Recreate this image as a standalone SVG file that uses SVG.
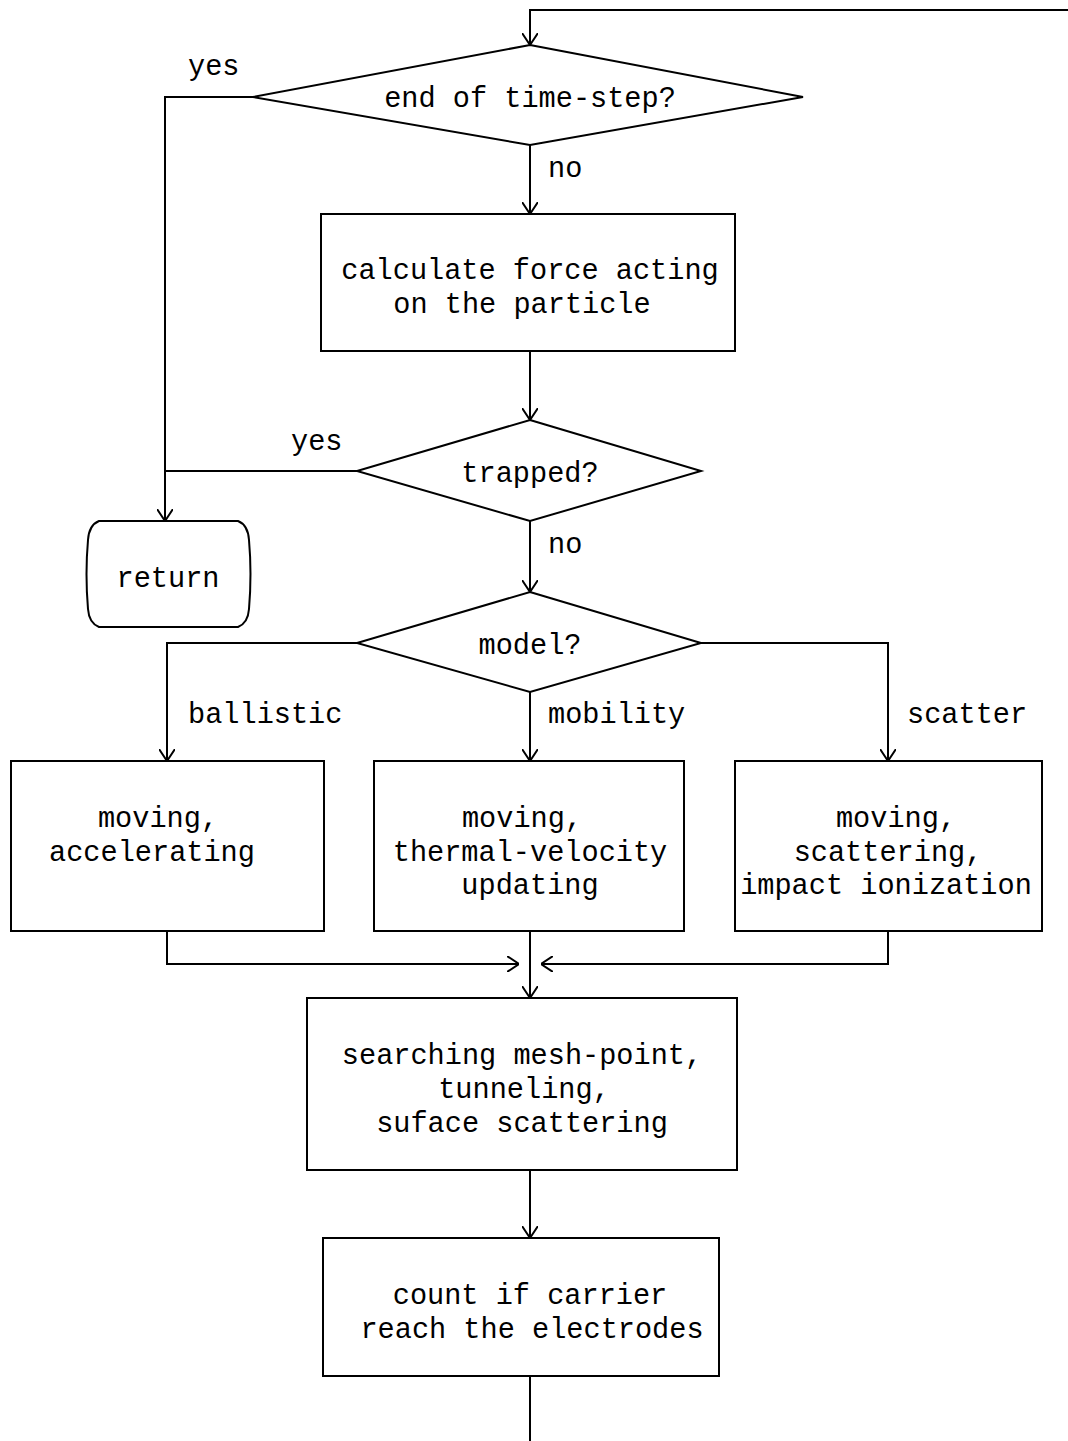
<svg xmlns="http://www.w3.org/2000/svg" width="1068" height="1441" viewBox="0 0 1068 1441">
<defs>
<style>
.s{fill:#fff;stroke:#000;stroke-width:2}
.c{fill:none;stroke:#000;stroke-width:2}
text{font-family:"Liberation Mono","DejaVu Sans Mono",monospace;font-size:28.6px;fill:#000;text-anchor:middle}
.l{text-anchor:start}
</style>
<marker id="a" viewBox="0 0 12 16" refX="12" refY="8" markerWidth="12" markerHeight="16" markerUnits="userSpaceOnUse" orient="auto">
<path d="M0,0 L12,8 L0,16" fill="none" stroke="#000" stroke-width="2"/>
</marker>
</defs>
<rect width="1068" height="1441" fill="#fff"/>
<g id="connectors">
<path class="c" d="M1068,10 H530 V45" marker-end="url(#a)"/>
<path class="c" d="M253,97 H165 V521" marker-end="url(#a)"/>
<path class="c" d="M530,145 V214" marker-end="url(#a)"/>
<path class="c" d="M530,351 V420" marker-end="url(#a)"/>
<path class="c" d="M357,471 H165"/>
<path class="c" d="M530,521 V592" marker-end="url(#a)"/>
<path class="c" d="M357,643 H167 V761" marker-end="url(#a)"/>
<path class="c" d="M530,692 V761" marker-end="url(#a)"/>
<path class="c" d="M701,643 H888 V761" marker-end="url(#a)"/>
<path class="c" d="M167,931 V964 H519" marker-end="url(#a)"/>
<path class="c" d="M888,931 V964 H541" marker-end="url(#a)"/>
<path class="c" d="M530,931 V998" marker-end="url(#a)"/>
<path class="c" d="M530,1170 V1238" marker-end="url(#a)"/>
<path class="c" d="M530,1376 V1441"/>
<text class="l" x="188" y="75">yes</text>
<text class="l" x="548" y="177">no</text>
<text class="l" x="291" y="450">yes</text>
<text class="l" x="548" y="553">no</text>
<text class="l" x="188" y="723">ballistic</text>
<text class="l" x="548" y="723">mobility</text>
<text class="l" x="907" y="723">scatter</text>
</g>
<g id="n-endstep">
<polygon class="s" points="530,45 803,97 530,145 253,97"/>
<text x="530" y="107">end of time-step?</text>
</g>
<g id="n-force">
<rect class="s" x="321" y="214" width="414" height="137"/>
<text x="530" y="279">calculate force acting</text>
<text x="522" y="313">on the particle</text>
</g>
<g id="n-trapped">
<polygon class="s" points="530,420 701,471 530,521 357,471"/>
<text x="530" y="482">trapped?</text>
</g>
<g id="n-return">
<path class="s" d="M99,521 H238 Q248,525 249,540 Q252,574 249,609 Q248,623 238,627 H99 Q89,623 88,609 Q85,574 88,540 Q89,525 99,521 Z"/>
<text x="168" y="587">return</text>
</g>
<g id="n-model">
<polygon class="s" points="530,592 701,643 530,692 357,643"/>
<text x="530" y="654">model?</text>
</g>
<g id="n-ballistic">
<rect class="s" x="11" y="761" width="313" height="170"/>
<text x="158" y="827">moving,</text>
<text x="152" y="861">accelerating</text>
</g>
<g id="n-mobility">
<rect class="s" x="374" y="761" width="310" height="170"/>
<text x="522" y="827">moving,</text>
<text x="530" y="861">thermal-velocity</text>
<text x="530" y="894">updating</text>
</g>
<g id="n-scatter">
<rect class="s" x="735" y="761" width="307" height="170"/>
<text x="896" y="827">moving,</text>
<text x="888" y="861">scattering,</text>
<text x="886" y="894">impact ionization</text>
</g>
<g id="n-search">
<rect class="s" x="307" y="998" width="430" height="172"/>
<text x="522" y="1064">searching mesh-point,</text>
<text x="524" y="1098">tunneling,</text>
<text x="522" y="1132">suface scattering</text>
</g>
<g id="n-count">
<rect class="s" x="323" y="1238" width="396" height="138"/>
<text x="530" y="1304">count if carrier</text>
<text x="532" y="1338">reach the electrodes</text>
</g>
</svg>
